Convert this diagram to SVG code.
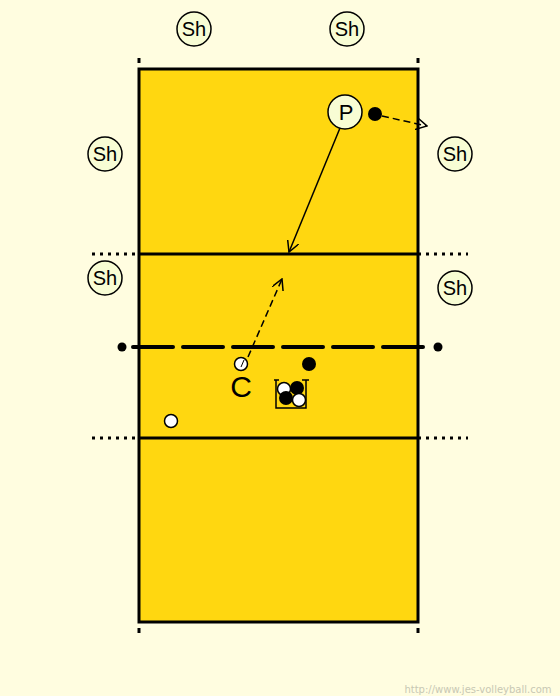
<svg xmlns="http://www.w3.org/2000/svg" width="560" height="696" viewBox="0 0 560 696">
<defs>
<style>
.pl{fill:#f8fdd4;stroke:#000;stroke-width:1.5}
.t{font-family:"Liberation Sans",Arial,sans-serif;font-size:20px;text-anchor:middle;fill:#000}
.ln{stroke:#000;stroke-width:3;fill:none}
.dot{stroke:#000;stroke-width:3;stroke-dasharray:3,5;fill:none}
.bb{fill:#000}
.wb{fill:#fff;stroke:#000;stroke-width:1.5}
.ar{stroke:#000;stroke-width:1.5;fill:none}
</style>
<marker id="ah" viewBox="0 0 12 12" refX="11" refY="6" markerWidth="12" markerHeight="12" markerUnits="userSpaceOnUse" orient="auto"><path d="M0,0 L11,6 L0,12" fill="none" stroke="#000" stroke-width="1.5"/></marker>
</defs>
<rect width="560" height="696" fill="#fffde0"/>
<g id="court">
<rect x="139" y="69" width="279" height="553" fill="#ffd710" stroke="#000" stroke-width="3"/>
<line class="ln" x1="139" y1="254" x2="418" y2="254"/>
<line class="ln" x1="139" y1="438" x2="418" y2="438"/>
<line class="dot" x1="92" y1="254" x2="139" y2="254"/>
<line class="dot" x1="418" y1="254" x2="468" y2="254"/>
<line class="dot" x1="92" y1="438" x2="139" y2="438"/>
<line class="dot" x1="418" y1="438" x2="468" y2="438"/>
<line class="ln" x1="139" y1="58" x2="139" y2="63"/>
<line class="ln" x1="418" y1="58" x2="418" y2="63"/>
<line class="ln" x1="139" y1="628" x2="139" y2="633"/>
<line class="ln" x1="418" y1="628" x2="418" y2="633"/>
</g>
<g id="net">
<line x1="133" y1="347" x2="428" y2="347" stroke="#000" stroke-width="4" stroke-linecap="round" stroke-dasharray="40,10"/>
<circle cx="122" cy="347" r="4.5" class="bb"/>
<circle cx="438" cy="347" r="4.5" class="bb"/>
</g>
<g id="connectors">
<line class="ar" x1="340" y1="128" x2="289" y2="252" marker-end="url(#ah)"/>
<line class="ar" x1="382" y1="116" x2="427" y2="126" stroke-dasharray="7,4" marker-end="url(#ah)"/>
<line class="ar" x1="248" y1="357" x2="282" y2="279" stroke-dasharray="7,4" marker-end="url(#ah)"/>
</g>
<g id="sh1"><circle class="pl" cx="194" cy="29" r="17"/><text class="t" x="194" y="36">Sh</text></g>
<g id="sh2"><circle class="pl" cx="347" cy="29" r="17"/><text class="t" x="347" y="36">Sh</text></g>
<g id="sh3"><circle class="pl" cx="105" cy="154" r="17"/><text class="t" x="105" y="161">Sh</text></g>
<g id="sh4"><circle class="pl" cx="455" cy="154" r="17"/><text class="t" x="455" y="161">Sh</text></g>
<g id="sh5"><circle class="pl" cx="105" cy="278" r="17"/><text class="t" x="105" y="285">Sh</text></g>
<g id="sh6"><circle class="pl" cx="455" cy="288" r="17"/><text class="t" x="455" y="295">Sh</text></g>
<g id="p"><circle class="pl" cx="345" cy="112" r="17"/><text class="t" x="346" y="120" style="font-size:22px">P</text></g>
<g id="ballP"><circle class="bb" cx="375" cy="114" r="7"/></g>
<g id="coach">
<circle class="wb" cx="241" cy="364" r="6.5"/>
<line x1="241" y1="367" x2="244" y2="360" stroke="#000" stroke-width="1"/>
<text class="t" x="241" y="397" style="font-size:30px">C</text>
</g>
<g id="ball2"><circle class="bb" cx="309" cy="364" r="7"/></g>
<g id="basket">
<path d="M274,380 H279 M276,380 V408 H306 V380 M302,380 H309" fill="none" stroke="#000" stroke-width="1.5"/>
<circle class="wb" cx="284" cy="389" r="6.5"/>
<circle class="bb" cx="297" cy="388" r="7"/>
<circle class="bb" cx="286" cy="398" r="7"/>
<circle class="wb" cx="299" cy="400" r="6.5"/>
</g>
<g id="ball3"><circle class="wb" cx="171" cy="421" r="6.5"/></g>
<text x="478" y="693" style="font-family:'DejaVu Sans',sans-serif;font-size:10px;text-anchor:middle;fill:#c8c8b4">http://www.jes-volleyball.com</text>
</svg>
